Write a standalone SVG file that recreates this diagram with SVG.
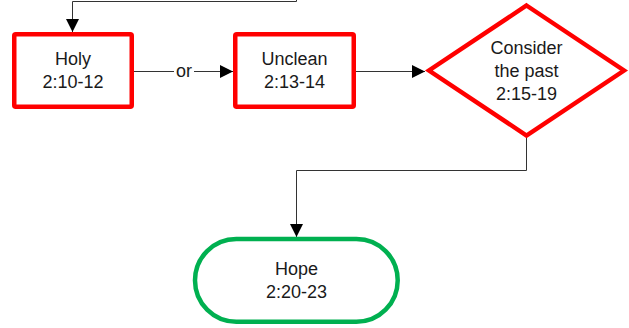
<svg xmlns="http://www.w3.org/2000/svg" width="629" height="328" viewBox="0 0 629 328">
<defs>
<marker id="arr" markerUnits="userSpaceOnUse" markerWidth="13" markerHeight="13" viewBox="0 0 12 12" refX="12" refY="6" orient="auto">
<path d="M0,0 L12,6 L0,12 Z" fill="#000"/>
</marker>
</defs>
<style>
.red{fill:#fff;stroke:#ff0000;stroke-width:4.5}
.green{fill:#fff;stroke:#00b050;stroke-width:4.5}
.con{fill:none;stroke:#333;stroke-width:1}
text{font-family:"Liberation Sans",Arial,sans-serif;font-size:18px;fill:#1a1a1a;text-anchor:middle}
</style>
<rect width="629" height="328" fill="#fff"/>
<g id="connectors">
<path class="con" d="M296.5,0 V1.5 H72.5 V32" marker-end="url(#arr)"/>
<path class="con" d="M134,71.5 H233" marker-end="url(#arr)"/>
<rect x="174" y="62" width="20" height="18" fill="#fff"/>
<text x="184" y="77">or</text>
<path class="con" d="M356,71.5 H425" marker-end="url(#arr)"/>
<path class="con" d="M526.5,137 V170.5 H296.5 V237" marker-end="url(#arr)"/>
</g>
<g id="holy">
<rect class="red" x="14.25" y="34.25" width="117.5" height="72.5" rx="1.5"/>
<text x="73" y="65">Holy</text>
<text x="73" y="88">2:10-12</text>
</g>
<g id="unclean">
<rect class="red" x="235.25" y="34.25" width="118.5" height="72.5" rx="1.5"/>
<text x="294.5" y="65">Unclean</text>
<text x="294.5" y="88">2:13-14</text>
</g>
<g id="consider">
<polygon class="red" points="526.5,5.5 624,70.5 526.5,135.5 429,70.5"/>
<text x="526.5" y="54">Consider</text>
<text x="526.5" y="77">the past</text>
<text x="526.5" y="100">2:15-19</text>
</g>
<g id="hope">
<rect class="green" x="195" y="239" width="202.7" height="82.7" rx="41.3"/>
<text x="296.5" y="275">Hope</text>
<text x="296.5" y="298">2:20-23</text>
</g>
</svg>
